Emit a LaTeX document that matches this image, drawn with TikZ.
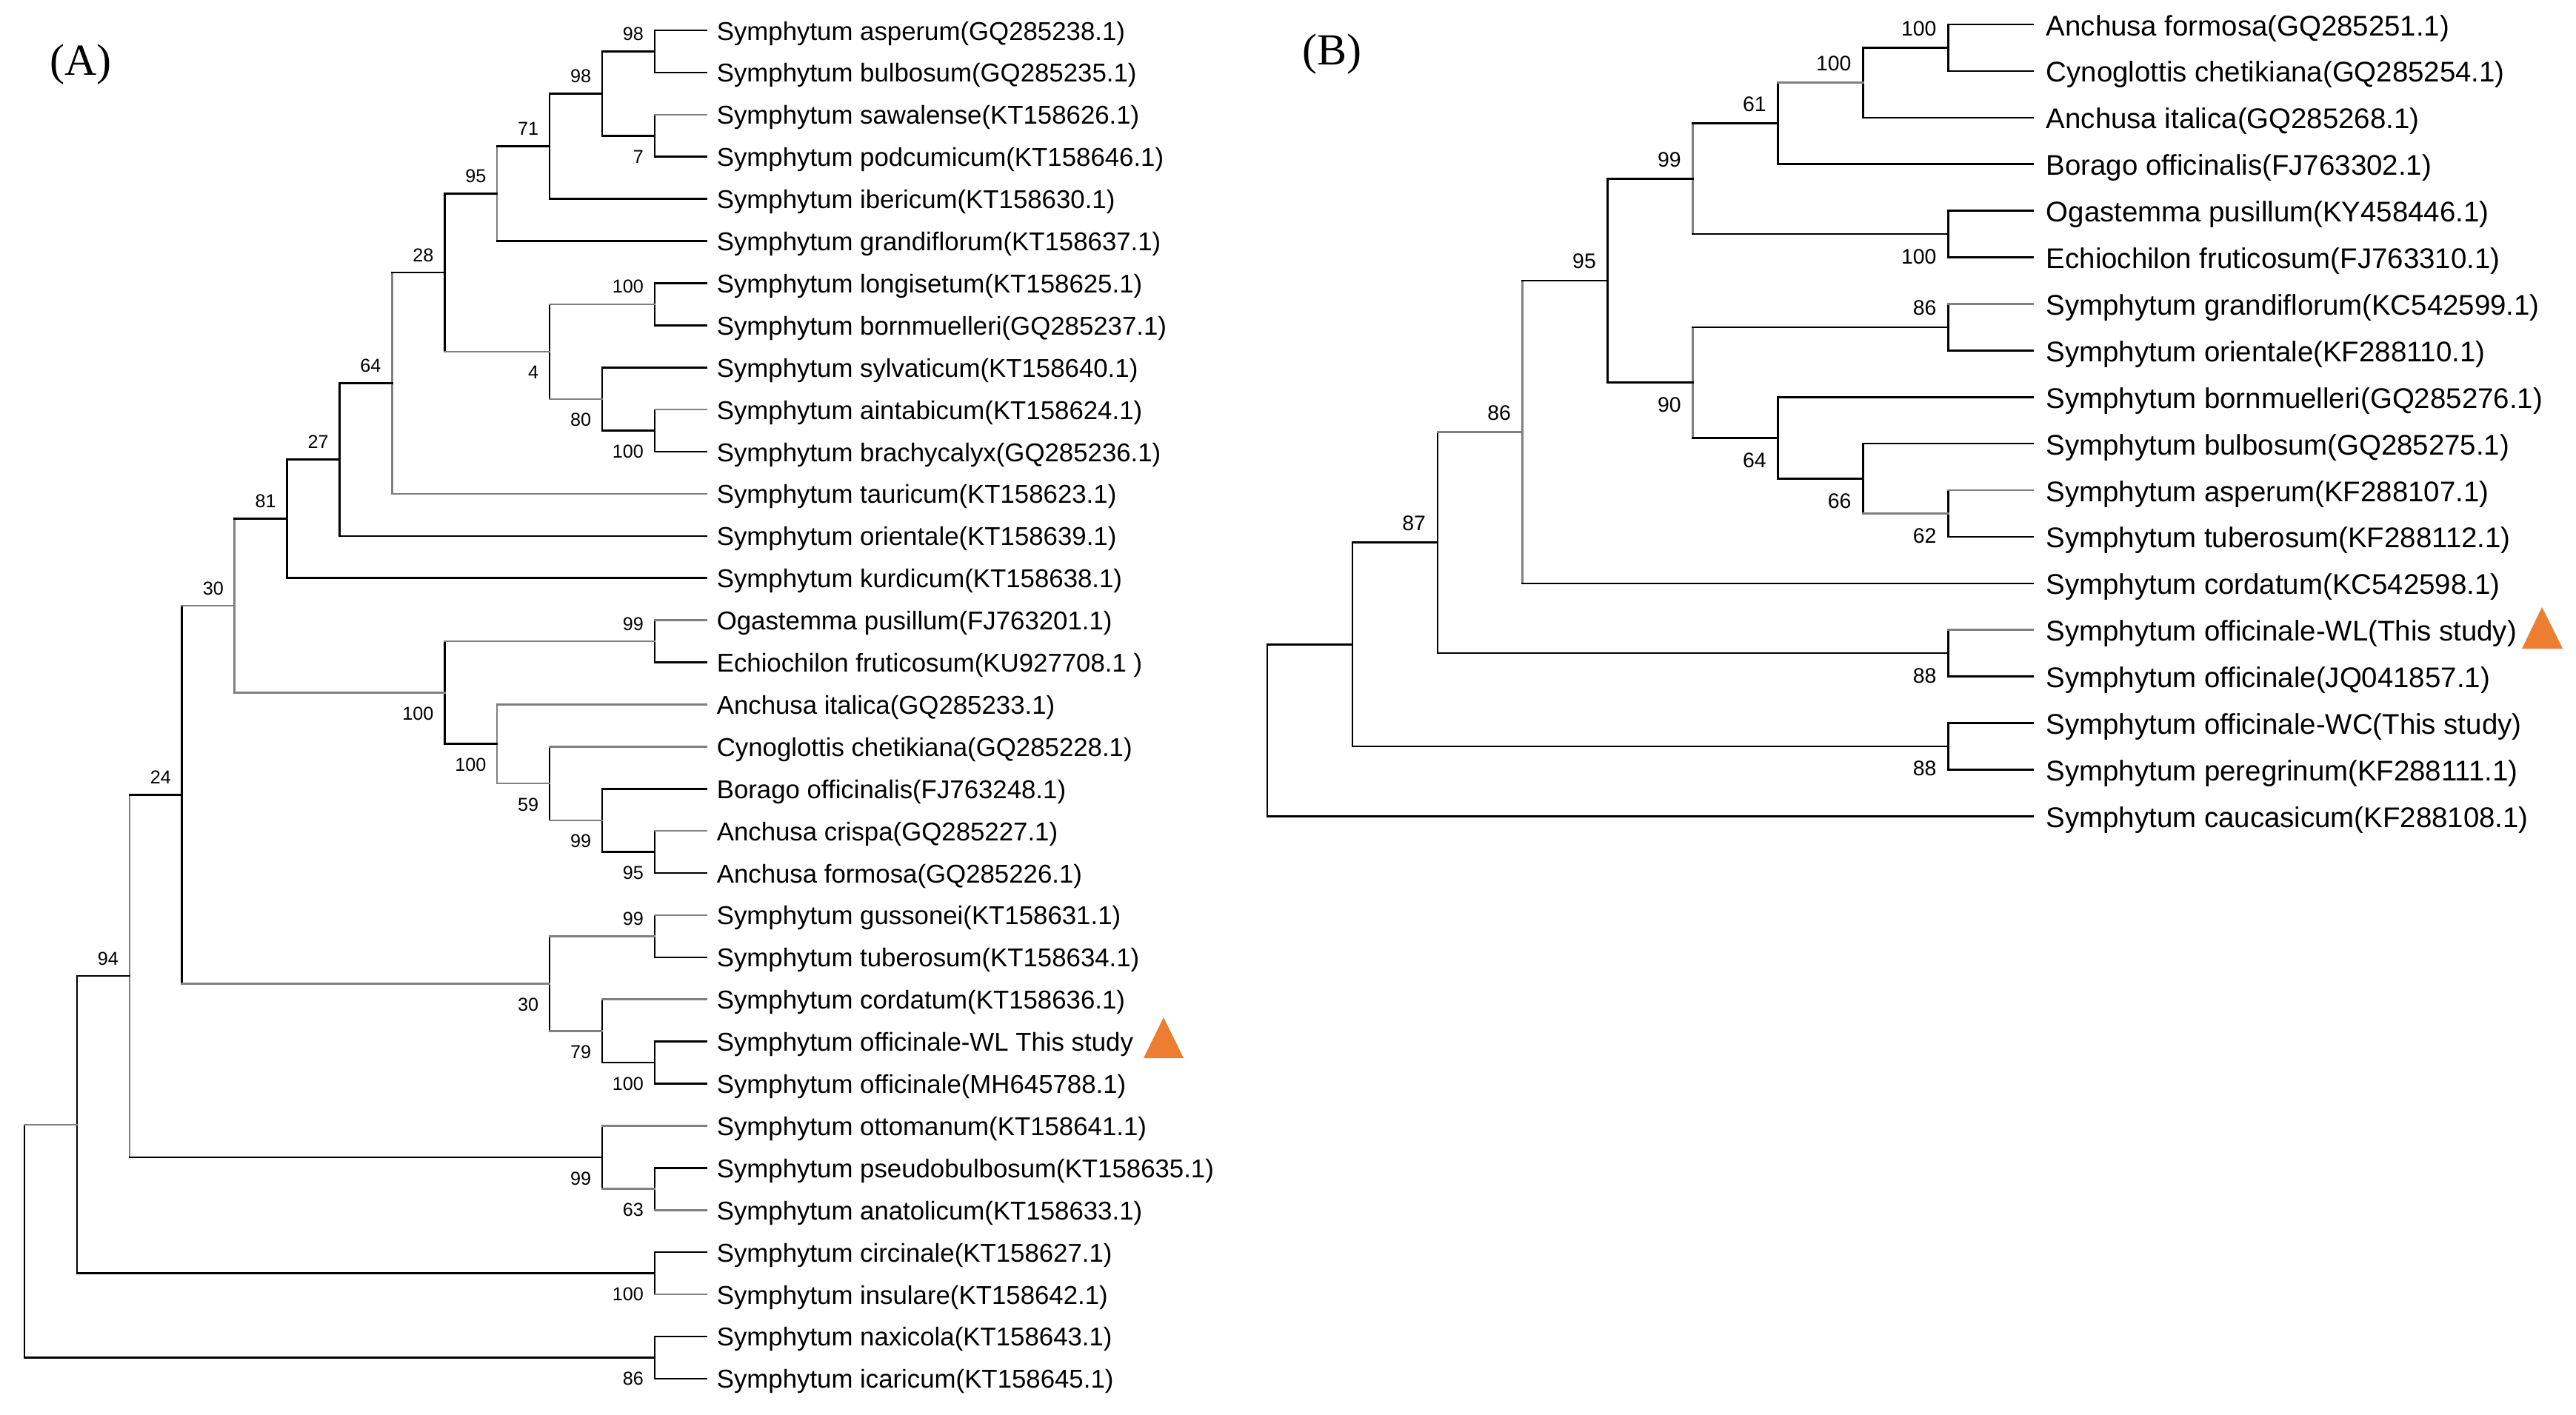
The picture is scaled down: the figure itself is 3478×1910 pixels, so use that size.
\documentclass[tikz,border=0pt]{standalone}
\usepackage{fontspec}
\setmainfont{Liberation Sans}
\newfontfamily\panelfont{Liberation Serif}
\usetikzlibrary{calc}
\definecolor{treegray}{RGB}{128,128,128}
\definecolor{markorange}{RGB}{237,125,49}
\newcommand\mkclade[4]{\coordinate (tmpm) at ($(#3)!0.5!(#4)$);\coordinate (tmpx) at (#2,0);\coordinate (#1) at (tmpm -| tmpx);}
\newcommand\hb[3]{\draw[#1] (#3 -| #2) -- (#3);}
\newcommand\vb[4]{\draw[#1] (#3 -| #2) -- (#4 -| #2);}
\newcommand\leafA[2]{\coordinate (A#1) at (954,{41+56.9*#1});\node[leafA] (tA#1) at (A#1) {#2};}
\newcommand\leafB[2]{\coordinate (B#1) at (2745,{33+62.9*#1});\node[leafB] (tB#1) at (B#1) {#2};}
\newcommand\bsAu[2]{\node[bsA] (l#1) at ([shift={(-14,-15)}]#1) {#2};}
\newcommand\bsAd[2]{\node[bsA] (l#1) at ([shift={(-14,37)}]#1) {#2};}
\newcommand\bsBu[2]{\node[bsB] (l#1) at ([shift={(-15,-16)}]#1) {#2};}
\newcommand\bsBd[2]{\node[bsB] (l#1) at ([shift={(-15,40)}]#1) {#2};}
\tikzset{
  bk/.style={draw=black, line width=0.65pt, line cap=rect},
  gr/.style={draw=treegray, line width=0.65pt, line cap=rect},
  leafA/.style={anchor=base west, inner sep=0pt, xshift=3.25pt, yshift=-3.25pt, font=\fontsize{8.7}{10}\selectfont},
  leafB/.style={anchor=base west, inner sep=0pt, xshift=4.25pt, yshift=-3.75pt, font=\fontsize{9.6}{11}\selectfont},
  bsA/.style={anchor=base east, inner sep=0pt, font=\fontsize{6.3}{7}\selectfont},
  bsB/.style={anchor=base east, inner sep=0pt, font=\fontsize{7.1}{8}\selectfont},
  panel/.style={inner sep=0pt, font=\panelfont\fontsize{15}{17}\selectfont},
  marker/.style={fill=markorange, draw=none}
}
\begin{document}
\begin{tikzpicture}[x=0.25pt, y=-0.25pt]
\useasboundingbox (0,0) rectangle (3478,1910);
\node[panel] (pA) at (109,87) {(A)};
\node[panel] (pB) at (1798,73) {(B)};
% ---------------- Tree A leaves
\leafA{0}{Symphytum asperum(GQ285238.1)}
\leafA{1}{Symphytum bulbosum(GQ285235.1)}
\leafA{2}{Symphytum sawalense(KT158626.1)}
\leafA{3}{Symphytum podcumicum(KT158646.1)}
\leafA{4}{Symphytum ibericum(KT158630.1)}
\leafA{5}{Symphytum grandiflorum(KT158637.1)}
\leafA{6}{Symphytum longisetum(KT158625.1)}
\leafA{7}{Symphytum bornmuelleri(GQ285237.1)}
\leafA{8}{Symphytum sylvaticum(KT158640.1)}
\leafA{9}{Symphytum aintabicum(KT158624.1)}
\leafA{10}{Symphytum brachycalyx(GQ285236.1)}
\leafA{11}{Symphytum tauricum(KT158623.1)}
\leafA{12}{Symphytum orientale(KT158639.1)}
\leafA{13}{Symphytum kurdicum(KT158638.1)}
\leafA{14}{Ogastemma pusillum(FJ763201.1)}
\leafA{15}{Echiochilon fruticosum(KU927708.1 )}
\leafA{16}{Anchusa italica(GQ285233.1)}
\leafA{17}{Cynoglottis chetikiana(GQ285228.1)}
\leafA{18}{Borago officinalis(FJ763248.1)}
\leafA{19}{Anchusa crispa(GQ285227.1)}
\leafA{20}{Anchusa formosa(GQ285226.1)}
\leafA{21}{Symphytum gussonei(KT158631.1)}
\leafA{22}{Symphytum tuberosum(KT158634.1)}
\leafA{23}{Symphytum cordatum(KT158636.1)}
\leafA{24}{Symphytum officinale-WL This study}
\leafA{25}{Symphytum officinale(MH645788.1)}
\leafA{26}{Symphytum ottomanum(KT158641.1)}
\leafA{27}{Symphytum pseudobulbosum(KT158635.1)}
\leafA{28}{Symphytum anatolicum(KT158633.1)}
\leafA{29}{Symphytum circinale(KT158627.1)}
\leafA{30}{Symphytum insulare(KT158642.1)}
\leafA{31}{Symphytum naxicola(KT158643.1)}
\leafA{32}{Symphytum icaricum(KT158645.1)}
% ---------------- Tree A clades
\mkclade{a1}{883.8}{A0}{A1}
\mkclade{a2}{883.8}{A2}{A3}
\mkclade{a3}{812.9}{a1}{a2}
\mkclade{a4}{742}{a3}{A4}
\mkclade{a5}{671.1}{a4}{A5}
\mkclade{a6}{883.8}{A6}{A7}
\mkclade{a7}{883.8}{A9}{A10}
\mkclade{a8}{812.9}{A8}{a7}
\mkclade{a9}{742}{a6}{a8}
\mkclade{a10}{600.2}{a5}{a9}
\mkclade{a11}{529.3}{a10}{A11}
\mkclade{a12}{458.4}{a11}{A12}
\mkclade{a13}{387.5}{a12}{A13}
\mkclade{a14}{883.8}{A14}{A15}
\mkclade{a15}{883.8}{A19}{A20}
\mkclade{a16}{812.9}{A18}{a15}
\mkclade{a17}{742}{A17}{a16}
\mkclade{a18}{671.1}{A16}{a17}
\mkclade{a19}{600.2}{a14}{a18}
\mkclade{a20}{316.6}{a13}{a19}
\mkclade{a21}{883.8}{A21}{A22}
\mkclade{a22}{883.8}{A24}{A25}
\mkclade{a23}{812.9}{A23}{a22}
\mkclade{a24}{742}{a21}{a23}
\mkclade{a25}{245.7}{a20}{a24}
\mkclade{a26}{883.8}{A27}{A28}
\mkclade{a27}{812.9}{A26}{a26}
\mkclade{a28}{174.8}{a25}{a27}
\mkclade{a29}{883.8}{A29}{A30}
\mkclade{a30}{103.9}{a28}{a29}
\mkclade{a31}{883.8}{A31}{A32}
\mkclade{rA}{33}{a30}{a31}
% branches A
\vb{bk}{a1}{A0}{A1} \hb{bk}{a1}{A0} \hb{bk}{a1}{A1}
\vb{bk}{a2}{A2}{A3} \hb{gr}{a2}{A2} \hb{bk}{a2}{A3}
\vb{bk}{a3}{a1}{a2} \hb{bk}{a3}{a1} \hb{bk}{a3}{a2}
\vb{bk}{a4}{a3}{A4} \hb{bk}{a4}{a3} \hb{bk}{a4}{A4}
\vb{gr}{a5}{a4}{A5} \hb{bk}{a5}{a4} \hb{bk}{a5}{A5}
\vb{bk}{a6}{A6}{A7} \hb{bk}{a6}{A6} \hb{bk}{a6}{A7}
\vb{bk}{a7}{A9}{A10} \hb{gr}{a7}{A9} \hb{bk}{a7}{A10}
\vb{bk}{a8}{A8}{a7} \hb{bk}{a8}{A8} \hb{bk}{a8}{a7}
\vb{bk}{a9}{a6}{a8} \hb{gr}{a9}{a6} \hb{gr}{a9}{a8}
\vb{bk}{a10}{a5}{a9} \hb{bk}{a10}{a5} \hb{gr}{a10}{a9}
\vb{gr}{a11}{a10}{A11} \hb{bk}{a11}{a10} \hb{gr}{a11}{A11}
\vb{bk}{a12}{a11}{A12} \hb{bk}{a12}{a11} \hb{bk}{a12}{A12}
\vb{bk}{a13}{a12}{A13} \hb{bk}{a13}{a12} \hb{bk}{a13}{A13}
\vb{bk}{a14}{A14}{A15} \hb{gr}{a14}{A14} \hb{bk}{a14}{A15}
\vb{bk}{a15}{A19}{A20} \hb{gr}{a15}{A19} \hb{bk}{a15}{A20}
\vb{bk}{a16}{A18}{a15} \hb{bk}{a16}{A18} \hb{bk}{a16}{a15}
\vb{bk}{a17}{A17}{a16} \hb{gr}{a17}{A17} \hb{gr}{a17}{a16}
\vb{gr}{a18}{A16}{a17} \hb{gr}{a18}{A16} \hb{gr}{a18}{a17}
\vb{bk}{a19}{a14}{a18} \hb{gr}{a19}{a14} \hb{bk}{a19}{a18}
\vb{gr}{a20}{a13}{a19} \hb{bk}{a20}{a13} \hb{gr}{a20}{a19}
\vb{bk}{a21}{A21}{A22} \hb{gr}{a21}{A21} \hb{bk}{a21}{A22}
\vb{bk}{a22}{A24}{A25} \hb{bk}{a22}{A24} \hb{bk}{a22}{A25}
\vb{bk}{a23}{A23}{a22} \hb{gr}{a23}{A23} \hb{bk}{a23}{a22}
\vb{bk}{a24}{a21}{a23} \hb{gr}{a24}{a21} \hb{gr}{a24}{a23}
\vb{bk}{a25}{a20}{a24} \hb{gr}{a25}{a20} \hb{gr}{a25}{a24}
\vb{bk}{a26}{A27}{A28} \hb{bk}{a26}{A27} \hb{gr}{a26}{A28}
\vb{bk}{a27}{A26}{a26} \hb{gr}{a27}{A26} \hb{gr}{a27}{a26}
\vb{gr}{a28}{a25}{a27} \hb{bk}{a28}{a25} \hb{bk}{a28}{a27}
\vb{bk}{a29}{A29}{A30} \hb{bk}{a29}{A29} \hb{gr}{a29}{A30}
\vb{bk}{a30}{a28}{a29} \hb{bk}{a30}{a28} \hb{bk}{a30}{a29}
\vb{bk}{a31}{A31}{A32} \hb{bk}{a31}{A31} \hb{bk}{a31}{A32}
\vb{bk}{rA}{a30}{a31} \hb{gr}{rA}{a30} \hb{bk}{rA}{a31}
% bootstrap A
\bsAu{a1}{98} \bsAd{a2}{7} \bsAu{a3}{98} \bsAu{a4}{71} \bsAu{a5}{95}
\bsAu{a6}{100} \bsAd{a7}{100} \bsAd{a8}{80} \bsAd{a9}{4} \bsAu{a10}{28}
\bsAu{a11}{64} \bsAu{a12}{27} \bsAu{a13}{81} \bsAu{a14}{99} \bsAd{a15}{95}
\bsAd{a16}{99} \bsAd{a17}{59} \bsAd{a18}{100} \bsAd{a19}{100} \bsAu{a20}{30}
\bsAu{a21}{99} \bsAd{a22}{100} \bsAd{a23}{79} \bsAd{a24}{30} \bsAu{a25}{24}
\bsAd{a26}{63} \bsAd{a27}{99} \bsAu{a28}{94} \bsAd{a29}{100} \bsAd{a31}{86}
% ---------------- Tree B leaves
\leafB{0}{Anchusa formosa(GQ285251.1)}
\leafB{1}{Cynoglottis chetikiana(GQ285254.1)}
\leafB{2}{Anchusa italica(GQ285268.1)}
\leafB{3}{Borago officinalis(FJ763302.1)}
\leafB{4}{Ogastemma pusillum(KY458446.1)}
\leafB{5}{Echiochilon fruticosum(FJ763310.1)}
\leafB{6}{Symphytum grandiflorum(KC542599.1)}
\leafB{7}{Symphytum orientale(KF288110.1)}
\leafB{8}{Symphytum bornmuelleri(GQ285276.1)}
\leafB{9}{Symphytum bulbosum(GQ285275.1)}
\leafB{10}{Symphytum asperum(KF288107.1)}
\leafB{11}{Symphytum tuberosum(KF288112.1)}
\leafB{12}{Symphytum cordatum(KC542598.1)}
\leafB{13}{Symphytum officinale-WL(This study)}
\leafB{14}{Symphytum officinale(JQ041857.1)}
\leafB{15}{Symphytum officinale-WC(This study)}
\leafB{16}{Symphytum peregrinum(KF288111.1)}
\leafB{17}{Symphytum caucasicum(KF288108.1)}
% ---------------- Tree B clades
\mkclade{b1}{2630.2}{B0}{B1}
\mkclade{b2}{2515.3}{b1}{B2}
\mkclade{b3}{2400.4}{b2}{B3}
\mkclade{b4}{2630.2}{B4}{B5}
\mkclade{b5}{2285.5}{b3}{b4}
\mkclade{b6}{2630.2}{B6}{B7}
\mkclade{b7}{2630.2}{B10}{B11}
\mkclade{b8}{2515.3}{B9}{b7}
\mkclade{b9}{2400.4}{B8}{b8}
\mkclade{b10}{2285.5}{b6}{b9}
\mkclade{b11}{2170.6}{b5}{b10}
\mkclade{b12}{2055.7}{b11}{B12}
\mkclade{b13}{2630.2}{B13}{B14}
\mkclade{b14}{1940.8}{b12}{b13}
\mkclade{b15}{2630.2}{B15}{B16}
\mkclade{b16}{1825.9}{b14}{b15}
\mkclade{rB}{1711}{b16}{B17}
% branches B
\vb{bk}{b1}{B0}{B1} \hb{bk}{b1}{B0} \hb{bk}{b1}{B1}
\vb{bk}{b2}{b1}{B2} \hb{bk}{b2}{b1} \hb{bk}{b2}{B2}
\vb{bk}{b3}{b2}{B3} \hb{gr}{b3}{b2} \hb{bk}{b3}{B3}
\vb{bk}{b4}{B4}{B5} \hb{bk}{b4}{B4} \hb{bk}{b4}{B5}
\vb{gr}{b5}{b3}{b4} \hb{bk}{b5}{b3} \hb{bk}{b5}{b4}
\vb{bk}{b6}{B6}{B7} \hb{gr}{b6}{B6} \hb{bk}{b6}{B7}
\vb{bk}{b7}{B10}{B11} \hb{gr}{b7}{B10} \hb{bk}{b7}{B11}
\vb{bk}{b8}{B9}{b7} \hb{bk}{b8}{B9} \hb{gr}{b8}{b7}
\vb{bk}{b9}{B8}{b8} \hb{bk}{b9}{B8} \hb{bk}{b9}{b8}
\vb{gr}{b10}{b6}{b9} \hb{bk}{b10}{b6} \hb{bk}{b10}{b9}
\vb{bk}{b11}{b5}{b10} \hb{bk}{b11}{b5} \hb{bk}{b11}{b10}
\vb{gr}{b12}{b11}{B12} \hb{bk}{b12}{b11} \hb{bk}{b12}{B12}
\vb{bk}{b13}{B13}{B14} \hb{gr}{b13}{B13} \hb{bk}{b13}{B14}
\vb{bk}{b14}{b12}{b13} \hb{gr}{b14}{b12} \hb{bk}{b14}{b13}
\vb{bk}{b15}{B15}{B16} \hb{bk}{b15}{B15} \hb{bk}{b15}{B16}
\vb{bk}{b16}{b14}{b15} \hb{bk}{b16}{b14} \hb{bk}{b16}{b15}
\vb{bk}{rB}{b16}{B17} \hb{bk}{rB}{b16} \hb{bk}{rB}{B17}
% bootstrap B
\bsBu{b1}{100} \bsBu{b2}{100} \bsBu{b3}{61} \bsBd{b4}{100} \bsBu{b5}{99}
\bsBu{b6}{86} \bsBd{b7}{62} \bsBd{b8}{66} \bsBd{b9}{64} \bsBd{b10}{90}
\bsBu{b11}{95} \bsBu{b12}{86} \bsBd{b13}{88} \bsBu{b14}{87} \bsBd{b15}{88}
% markers
\fill[marker] (1571,1374) -- (1598,1429) -- (1544,1429) -- cycle;
\fill[marker] (3432,820) -- (3460,876) -- (3405,876) -- cycle;
\end{tikzpicture}
\end{document}
